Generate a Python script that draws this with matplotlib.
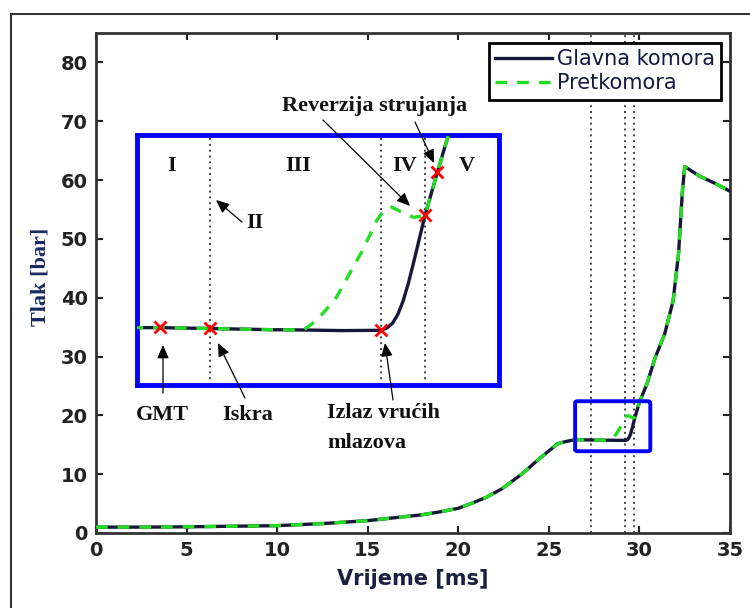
import matplotlib
matplotlib.use("Agg")
import matplotlib.pyplot as plt
from matplotlib.lines import Line2D
from matplotlib.patches import FancyBboxPatch

# Data

# pressure, main chamber
t_glavna = [0, 2.5, 5, 7.5, 10, 12.5, 15, 16.5, 18, 19, 20, 20.7, 21.5, 22.4,
            23.5, 24.5, 25.5, 26.0, 26.45, 26.7, 27.3, 28.0, 28.36, 28.8, 29.25,
            29.32, 29.38, 29.44, 29.5, 29.56, 29.62, 29.75, 29.89, 30.02, 30.4,
            30.87, 31.4, 31.86, 32.16, 32.37, 32.5, 32.65, 33.3, 34.2, 35]
p_glavna = [1.0, 1.0, 1.05, 1.15, 1.25, 1.6, 2.1, 2.6, 3.1, 3.6, 4.2, 5.0, 6.0, 7.5,
            10.0, 12.7, 15.2, 15.6, 15.85, 15.85, 15.82, 15.78, 15.77, 15.75, 15.76,
            15.85, 16.0, 16.3, 16.75, 17.35, 18.05, 19.65, 21.1, 22.4, 25.2,
            29.8, 33.9, 39.5, 47.5, 58.0, 62.3, 62.0, 60.7, 59.4, 58.1]

# pressure, prechamber (same as main chamber except 28.4 - 29.8 ms)
t_pret = t_glavna[:23] + [28.51, 28.72, 28.89, 29.04, 29.2, 29.27, 29.37, 29.47,
                          29.62] + t_glavna[31:]
p_pret = p_glavna[:23] + [16.1, 16.8, 17.7, 18.5, 19.5, 19.8, 19.95, 19.8,
                          19.6] + p_glavna[31:]

# events (red crosses in the zoom)
t_dog = [26.71, 27.29, 29.25, 29.75, 29.89]
p_dog = [15.87, 15.84, 15.76, 19.68, 21.14]

# vertical dotted lines
t_granice = [27.3, 29.2, 29.7]

# zoom window
zoom_x = (26.45, 30.6)
zoom_y = (13.9, 22.4)

W, H = 750, 608


def fx(x):
    return x / W


def fy(y):
    return 1 - y / H


crna = "#16173a"
zelena = "#22dd22"
serif = "Liberation Serif"

fig = plt.figure(figsize=(7.5, 6.08), dpi=100)
ax = fig.add_axes([fx(96), fy(533), fx(730) - fx(96), fy(33) - fy(533)])


def crtaj(a, gr):
    a.plot(t_glavna, p_glavna, color=crna, lw=2.4, label="Glavna komora", zorder=3)
    a.plot(t_pret, p_pret, color=zelena, lw=2.4, dashes=(3.5, 3), label="Pretkomora", zorder=4)
    for t in gr:
        a.axvline(t, color="#444444", lw=1.4, ls=(0, (1, 2)), zorder=2)


crtaj(ax, t_granice)
ax.set_xlim(0, 35)
ax.set_ylim(0, 85)
ax.set_xticks(range(0, 36, 5))
ax.set_yticks(range(0, 81, 10))
ax.tick_params(direction="in", top=True, right=True, length=5, width=1.5,
               labelsize=14, colors="#222222", pad=6)
for lab in ax.get_xticklabels() + ax.get_yticklabels():
    lab.set_fontweight("bold")
for s in ax.spines.values():
    s.set_linewidth(2)
    s.set_color("#333333")

ax.set_xlabel("Vrijeme [ms]", fontsize=15, fontweight="bold", color="#1a2040", labelpad=6)
fig.text(fx(40), fy(277), "Tlak [bar]", rotation=90, ha="center", va="center",
         fontsize=16, fontweight="bold", family=serif, color="#1a2a60")

leg = ax.legend(loc="upper right", bbox_to_anchor=(fx(721), fy(43)),
                bbox_transform=fig.transFigure, borderaxespad=0, fancybox=False,
                fontsize=15, handlelength=2.7, handletextpad=0.25,
                borderpad=0.3, labelspacing=0.2, framealpha=1)
leg.get_frame().set_edgecolor("black")
leg.get_frame().set_linewidth(2)
for txt in leg.get_texts():
    txt.set_color("#141a40")

# small blue box on main axes
box = FancyBboxPatch((zoom_x[0], zoom_y[0]), zoom_x[1] - zoom_x[0], zoom_y[1] - zoom_y[0],
                     boxstyle="round,pad=0,rounding_size=0.15", fill=False,
                     edgecolor="#0000ff", lw=2.8, zorder=5, mutation_aspect=2)
ax.add_patch(box)

# inset
ins = fig.add_axes([fx(137), fy(385), fx(499) - fx(137), fy(135) - fy(385)])
crtaj(ins, t_dog[1:4])
ins.plot(t_dog, p_dog, "x", color="red", ms=9, mew=2, zorder=6)
ins.set_xlim(*zoom_x)
ins.set_ylim(*zoom_y)
ins.set_xticks([])
ins.set_yticks([])
for s in ins.spines.values():
    s.set_linewidth(3.5)
    s.set_color("#0000ff")

# labels
txt_kw = dict(fontsize=16, fontweight="bold", family=serif, color="#111111")
fig.text(fx(375), fy(106), "Reverzija strujanja", ha="center", va="center", **txt_kw)
for s, x in zip(["I", "III", "IV", "V"], [172, 298, 405, 467]):
    fig.text(fx(x), fy(166), s, ha="center", va="center", **txt_kw)
fig.text(fx(255), fy(223), "II", ha="center", va="center", **txt_kw)
fig.text(fx(162), fy(415), "GMT", ha="center", va="center", **txt_kw)
fig.text(fx(248), fy(415), "Iskra", ha="center", va="center", **txt_kw)
fig.text(fx(327), fy(413), "Izlaz vrućih", ha="left", va="center", **txt_kw)
fig.text(fx(327), fy(443), "mlazova", ha="left", va="center", **txt_kw)

strelice = [((323, 120), (410, 206)), ((415, 122), (434, 163)), ((242, 222), (216, 200)),
            ((163, 393), (163, 345)), ((245, 398), (218, 343)), ((393, 400), (385, 343))]
for (x0, y0), (x1, y1) in strelice:
    fig.add_artist(plt.Annotation("", xy=(fx(x1), fy(y1)), xytext=(fx(x0), fy(y0)),
                                  xycoords="figure fraction", textcoords="figure fraction",
                                  arrowprops=dict(arrowstyle="-|>,head_length=0.8,head_width=0.35",
                                                  color="black", lw=0.9, shrinkA=0, shrinkB=0)))

# frame of the picture
fig.add_artist(Line2D([fx(11), fx(11)], [0, fy(14)], color="#333333", lw=1.5))
fig.add_artist(Line2D([fx(11), 1], [fy(14), fy(14)], color="#333333", lw=1.5))

fig.savefig("out.png", dpi=100)
